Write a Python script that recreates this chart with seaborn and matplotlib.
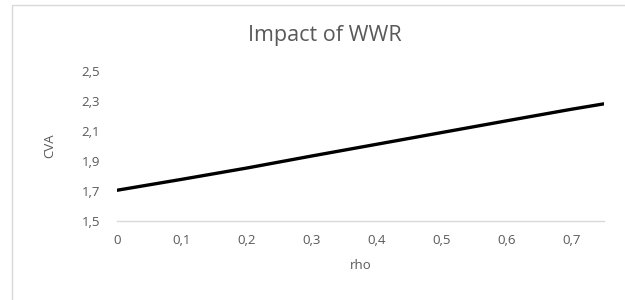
import numpy as np
import pandas as pd
import matplotlib
matplotlib.use("Agg")
import matplotlib.pyplot as plt
import seaborn as sns
from matplotlib.patches import Rectangle

# data
rho = [0.0, 0.1, 0.2, 0.3, 0.4, 0.5, 0.6, 0.7, 0.75]
cva = [1.705, 1.778, 1.853, 1.933, 2.011, 2.089, 2.167, 2.244, 2.28]

x_ticks = [0, 0.1, 0.2, 0.3, 0.4, 0.5, 0.6, 0.7]
x_labels = ["0", "0,1", "0,2", "0,3", "0,4", "0,5", "0,6", "0,7"]
y_ticks = [1.5, 1.7, 1.9, 2.1, 2.3, 2.5]
y_labels = ["1,5", "1,7", "1,9", "2,1", "2,3", "2,5"]

df = pd.DataFrame({"rho": rho, "CVA": cva})

sns.set_theme(style="white")
plt.rcParams["font.family"] = ["Open Sans", "DejaVu Sans"]
grey = "#595959"

fig = plt.figure(figsize=(6.25, 3.0), dpi=100)
ax = fig.add_axes([0.187, 0.263, 0.779, 0.501])

sns.lineplot(data=df, x="rho", y="CVA", color="black", linewidth=2.4, ax=ax)

ax.set_xlim(0, 0.75)
ax.set_ylim(1.5, 2.5)
ax.set_xticks(x_ticks)
ax.set_xticklabels(x_labels)
ax.set_yticks(y_ticks)
ax.set_yticklabels(y_labels)
ax.tick_params(axis="both", length=0, labelsize=9.5, labelcolor=grey)
ax.tick_params(axis="x", pad=9)
ax.tick_params(axis="y", pad=12)

for s in ["top", "right", "left"]:
    ax.spines[s].set_visible(False)
ax.spines["bottom"].set_color("#d9d9d9")
ax.spines["bottom"].set_linewidth(1)

ax.set_xlabel("rho", fontsize=9.5, color=grey, labelpad=9)
ax.set_ylabel("CVA", fontsize=9.5, color=grey, labelpad=18)

fig.text(0.52, 0.882, "Impact of WWR", ha="center", va="center", fontsize=15.5, color=grey)

# chart frame
fig.patches.append(Rectangle((12 / 625, -0.1), 1.1, 0.1 + 295 / 300,
                             transform=fig.transFigure, fill=False,
                             edgecolor="#d9d9d9", linewidth=1))

fig.savefig("out.png", dpi=100)
